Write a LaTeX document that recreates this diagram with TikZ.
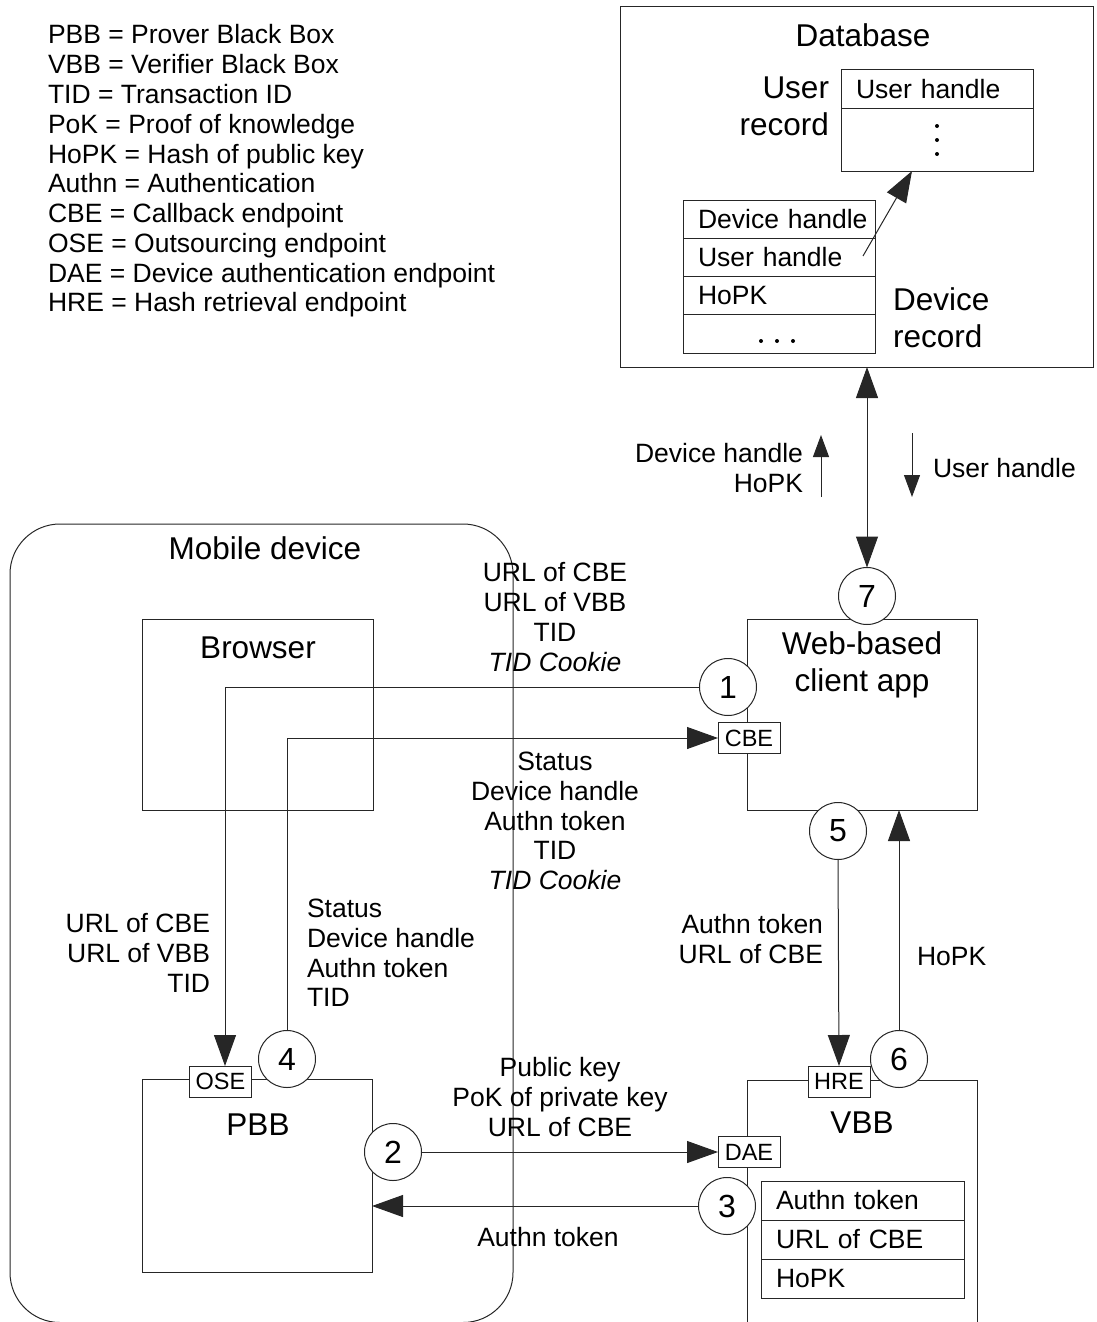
\documentclass[tikz,border=0pt]{standalone}
\usepackage{fontspec}
\setmainfont{Liberation Sans}
\usetikzlibrary{arrows.meta,fit}

\begin{document}
\begin{tikzpicture}[x=1pt,y=-1pt,
  every node/.style={inner sep=0pt, outer sep=0pt},
  ln/.style={draw=black!85, line width=1pt},
  box/.style={ln, inner sep=0pt},
  txt/.style={font=\fontsize{26.5}{29.8}\selectfont},
  big/.style={font=\fontsize{31.5}{36.5}\selectfont, align=center},
  num/.style={ln, circle, fill=white, minimum size=57pt, font=\fontsize{32}{36}\selectfont},
  endpt/.style={ln, fill=white, minimum width=62pt, minimum height=31pt, font=\fontsize{23.5}{26}\selectfont},
  cell/.style={ln, txt, anchor=north west, align=left, inner xsep=0pt, inner ysep=0pt,
    execute at begin node=\hspace*{15pt}},
  arr/.style={ln, -{Triangle[length=31pt,width=22pt]}},
  sarr/.style={ln, -{Triangle[length=22pt,width=16pt]}},
  darr/.style={ln, {Triangle[length=31pt,width=22pt]}-{Triangle[length=31pt,width=22pt]}}
]
\useasboundingbox (0,0) rectangle (1097,1322);

% legend
\foreach \t [count=\i, evaluate=\i as \yy using 44+29.75*(\i-1)] in {
  PBB = Prover Black Box, VBB = Verifier Black Box, TID = Transaction ID,
  PoK = Proof of knowledge, HoPK = Hash of public key, Authn = Authentication,
  CBE = Callback endpoint, OSE = Outsourcing endpoint,
  DAE = Device authentication endpoint, HRE = Hash retrieval endpoint}
  \node[txt, anchor=base west] (leg\i) at (48,\yy) {\t};

% database with user and device records
\node[box, fit={(620,7) (1093,367)}] (db) {};
\node[big] (dbT) at (863,35) {Database};
\node[cell, minimum height=38pt, text width=192pt] (ur1) at (841,70) {User handle};
\node[cell, minimum height=63pt, text width=192pt] (ur2) at (841,108) {};
\fill (937,126) circle (2pt) (937,140) circle (2pt) (937,154) circle (2pt);
\node[big, align=right, anchor=east] (urT) at (829,106.5) {User\\record};
\node[cell, minimum height=38.25pt, text width=192pt] (dr1) at (683,200) {Device handle};
\node[cell, minimum height=38.25pt, text width=192pt] (dr2) at (683,238.25) {User handle};
\node[cell, minimum height=38.25pt, text width=192pt] (dr3) at (683,276.5) {HoPK};
\node[cell, minimum height=38.25pt, text width=192pt] (dr4) at (683,314.75) {};
\fill (761,341) circle (2pt) (777,341) circle (2pt) (793,341) circle (2pt);
\node[big, align=left, anchor=west] (drT) at (893,317.5) {Device\\record};
\coordinate (ptrA) at (863,256);
\coordinate (ptrB) at (912,171);
\draw[arr] (ptrA) -- (ptrB);

% mobile device
\draw[ln, rounded corners=50pt] (10,524) rectangle (513,1322.5);
\node[big] (mobT) at (265,548) {Mobile device};
\node[box, fit={(142,619) (373,810)}] (browser) {};
\node[big] (browT) at (258,648) {Browser};
\node[box, fit={(142,1079) (372,1272)}] (pbb) {};
\node[big] (pbbT) at (258,1125) {PBB};

% web app and verifier
\node[box, fit={(747,619) (977,810)}] (web) {};
\node[big] (webT) at (862,665) {Web-based\\client app};
\draw[ln] (747,1340) -- (747,1080) -- (977,1080) -- (977,1340);
\node[big] (vbbT) at (862,1123) {VBB};
\node[cell, minimum height=39pt, text width=203pt] (vt1) at (761,1181) {Authn token};
\node[cell, minimum height=39pt, text width=203pt] (vt2) at (761,1220) {URL of CBE};
\node[cell, minimum height=39pt, text width=203pt] (vt3) at (761,1259) {HoPK};

% endpoints
\node[endpt] (cbe) at (749,738) {CBE};
\node[endpt] (dae) at (749,1152) {DAE};
\node[endpt] (hre) at (839,1081.5) {HRE};
\node[endpt] (ose) at (220.5,1081.5) {OSE};

% numbered steps
\node[num] (c1) at (728,687) {1};
\node[num] (c2) at (393,1152) {2};
\node[num] (c3) at (727,1206) {3};
\node[num] (c4) at (287,1059) {4};
\node[num] (c5) at (838,831) {5};
\node[num] (c6) at (899,1059) {6};
\node[num] (c7) at (867,596) {7};

% message flows
\draw[arr] (c1.west) -| ([xshift=4.5pt]ose.north);
\draw[arr] (c4.north) |- (cbe.west);
\draw[arr] (c2.east) -- (dae.west);
\draw[arr] (c3.west) -- (c3.west -| pbb.east);
\draw[arr] (c5.south) -- (hre.north);
\draw[arr] (c6.north) -- (c6.north |- web.south);
\draw[darr] (db.south -| c7.north) -- (c7.north);
\coordinate (upA) at (821,497);
\coordinate (upB) at (821,435);
\coordinate (dnA) at (912,433);
\coordinate (dnB) at (912,497);
\draw[sarr] (upA) -- (upB);
\draw[sarr] (dnA) -- (dnB);

% message labels
\node[txt, align=right, anchor=east] (lDH) at (803,468) {Device handle\\HoPK};
\node[txt, anchor=west] (lUH) at (933,468) {User handle};
\node[txt, align=center] (l1) at (555,617) {URL of CBE\\URL of VBB\\TID\\\textit{TID Cookie}};
\node[txt, align=center] (l4a) at (555,821) {Status\\Device handle\\Authn token\\TID\\\textit{TID Cookie}};
\node[txt, align=right, anchor=east] (l1b) at (210,953) {URL of CBE\\URL of VBB\\TID};
\node[txt, align=left, anchor=west] (l4b) at (307,953) {Status\\Device handle\\Authn token\\TID};
\node[txt, align=center] (l2) at (560,1097) {Public key\\PoK of private key\\URL of CBE};
\node[txt] (l3) at (548,1237) {Authn token};
\node[txt, align=right, anchor=east] (l5) at (823,939) {Authn token\\URL of CBE};
\node[txt, anchor=west] (l6) at (917,957) {HoPK};
\end{tikzpicture}
\end{document}
